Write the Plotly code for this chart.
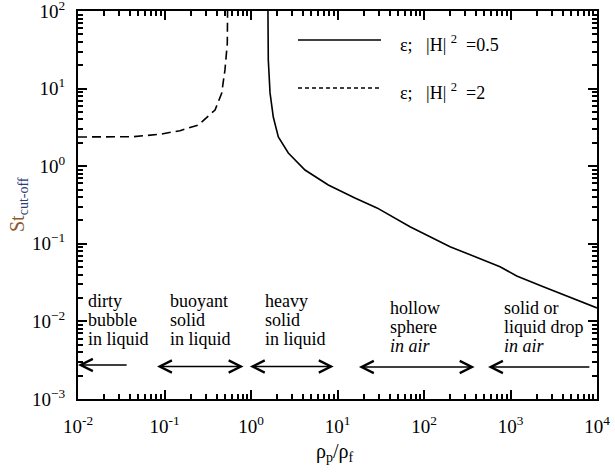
import numpy as np
import plotly.graph_objects as go

# ---- data ----
solid_x = [1.57, 1.585, 1.66, 1.81, 2.07, 2.70, 4.21, 7.83, 15.9, 28.6, 68.9, 200, 757, 1180, 2395, 10000]
solid_y = [100, 23.4, 8.8, 4.3, 2.38, 1.48, 0.893, 0.573, 0.389, 0.29, 0.166, 0.0918, 0.0507, 0.0385, 0.028, 0.0149]

dashed_x = [0.01, 0.02, 0.0435, 0.0887, 0.151, 0.246, 0.384, 0.458, 0.50, 0.532, 0.536]
dashed_y = [2.38, 2.38, 2.40, 2.58, 2.87, 3.40, 5.30, 8.7, 17.4, 38, 100]

x_range = [1e-2, 1e4]
y_range = [1e-3, 1e2]
x_tickvals = [1e-2, 1e-1, 1e0, 1e1, 1e2, 1e3, 1e4]
x_ticktext = ["10<sup>-2</sup>", "10<sup>-1</sup>", "10<sup>0</sup>", "10<sup>1</sup>",
              "10<sup>2</sup>", "10<sup>3</sup>", "10<sup>4</sup>"]
# y axis uses plotly's own decade labels, with the two short ones renamed
y_label_alias = {"1": "10<sup>0</sup>", "10": "10<sup>1</sup>"}
x_minor = [k * 10.0 ** n for n in range(-2, 4) for k in range(2, 10)]

legend_labels = ["ε;\u00a0\u00a0\u00a0|H|\u00a0<sup>2</sup>\u00a0\u00a0=0.5",
                 "ε;\u00a0\u00a0\u00a0|H|\u00a0<sup>2</sup>\u00a0\u00a0=2"]

region_lines = [["dirty", "bubble", "in liquid"],
                ["buoyant", "solid", "in liquid"],
                ["heavy", "solid", "in liquid"],
                ["hollow", "sphere", "<i>in air</i>"],
                ["solid or", "liquid drop", "<i>in air</i>"]]
region_text_x = [0.0125, 0.11, 1.38, 38.4, 798]
region_text_y = [0.0185, 0.0185, 0.0185, 0.0150, 0.0150]
arrow_x0 = [0.01, 0.082, 0.97, 17.7, 550]      # left end
arrow_x1 = [0.038, 0.853, 9.4, 400, 8500]      # right end
arrow_y = [0.00274, 0.00262, 0.00262, 0.00258, 0.00258]
arrow_sides = ["left", "both", "both", "both", "left"]

FONT = "Liberation Serif"
L, R, T, B = 78, 18, 11, 73
W, H = 615, 472
pw, ph = W - L - R, H - T - B

def px_to_paper_x(px):
    return (px - L) / pw

def px_to_paper_y(py):
    return (H - B - py) / ph

fig = go.Figure()
fig.add_trace(go.Scatter(x=solid_x, y=solid_y, mode="lines",
                         line=dict(color="black", width=1.6), showlegend=False))
fig.add_trace(go.Scatter(x=dashed_x, y=dashed_y, mode="lines",
                         line=dict(color="black", width=1.6, dash="9px,5px"), showlegend=False))

annotations = []
shapes = []

# legend keys
for i, (lab, dash) in enumerate(zip(legend_labels, ["solid", "4px,3px"])):
    ly = [40, 88][i]
    ty = [43, 91][i]
    shapes.append(dict(type="line", xref="paper", yref="paper", opacity=1, layer="above",
                       x0=px_to_paper_x(298), x1=px_to_paper_x(381),
                       y0=px_to_paper_y(ly), y1=px_to_paper_y(ly),
                       line=dict(color="black", width=1.5, dash=dash)))
    annotations.append(dict(xref="paper", yref="paper", x=px_to_paper_x(398), y=px_to_paper_y(ty),
                            text=lab, showarrow=False, xanchor="left", yanchor="middle",
                            font=dict(family=FONT, size=18, color="black")))

# regime labels
for lines, tx, ty in zip(region_lines, region_text_x, region_text_y):
    for j, ln in enumerate(lines):
        annotations.append(dict(xref="x", yref="y", x=np.log10(tx), y=np.log10(ty),
                                text=ln, showarrow=False, xanchor="left", yanchor="middle",
                                yshift=-19 * j,
                                font=dict(family=FONT, size=18, color="black")))

# regime arrows
for x0, x1, ay, side in zip(arrow_x0, arrow_x1, arrow_y, arrow_sides):
    a = dict(xref="x", yref="y", axref="x", ayref="y",
             x=np.log10(x0), y=np.log10(ay), ax=np.log10(x1), ay=np.log10(ay),
             text="", showarrow=True, arrowhead=5, arrowsize=1.6, arrowwidth=1.5,
             arrowcolor="black", standoff=0, startstandoff=0)
    if side == "both":
        a.update(arrowside="end+start", startarrowhead=5, startarrowsize=1.6)
    annotations.append(a)

# axis titles
annotations.append(dict(xref="paper", yref="paper", x=px_to_paper_x(18), y=px_to_paper_y(205),
                        text="<span style='color:#8b5a2b'>St</span><sub><span style='color:#2c3e78'>cut-off</span></sub>",
                        textangle=-90, showarrow=False, xanchor="center", yanchor="middle",
                        font=dict(family=FONT, size=20, color="#2c3e78")))
annotations.append(dict(xref="paper", yref="paper", x=px_to_paper_x(335), y=px_to_paper_y(452),
                        text="ρ<sub>p</sub>/ρ<sub>f</sub>", showarrow=False,
                        xanchor="center", yanchor="middle",
                        font=dict(family=FONT, size=20, color="black")))

fig.update_layout(
    template="simple_white",
    width=W, height=H,
    margin=dict(l=L, r=R, t=T, b=B),
    font=dict(family=FONT, color="black"),
    showlegend=False,
    annotations=annotations,
    shapes=shapes,
)
fig.update_xaxes(type="log", range=[np.log10(v) for v in x_range], tickmode="array",
                 tickvals=x_tickvals, ticktext=x_ticktext,
                 showline=True, linecolor="black", linewidth=1.5,
                 mirror="allticks", ticks="inside", ticklen=9, tickwidth=2, tickcolor="black",
                 minor=dict(ticks="inside", ticklen=5, tickwidth=2, tickcolor="black",
                            tickmode="array", tickvals=x_minor),
                 ticklabelstandoff=9, automargin=False,
                 tickfont=dict(family=FONT, size=19, color="black"), ticklabeloverflow="allow")
fig.update_yaxes(type="log", range=[np.log10(v) for v in y_range], dtick=1, tick0=0,
                 exponentformat="power", labelalias=y_label_alias,
                 showline=True, linecolor="black", linewidth=1.5,
                 mirror="allticks", ticks="inside", ticklen=9, tickwidth=2, tickcolor="black",
                 minor=dict(ticks="inside", ticklen=5, tickwidth=2, tickcolor="black", dtick="D1"),
                 ticklabelstandoff=8, automargin=False,
                 tickfont=dict(family=FONT, size=15.2, color="black"), ticklabeloverflow="allow")

fig.write_html("out.html")
